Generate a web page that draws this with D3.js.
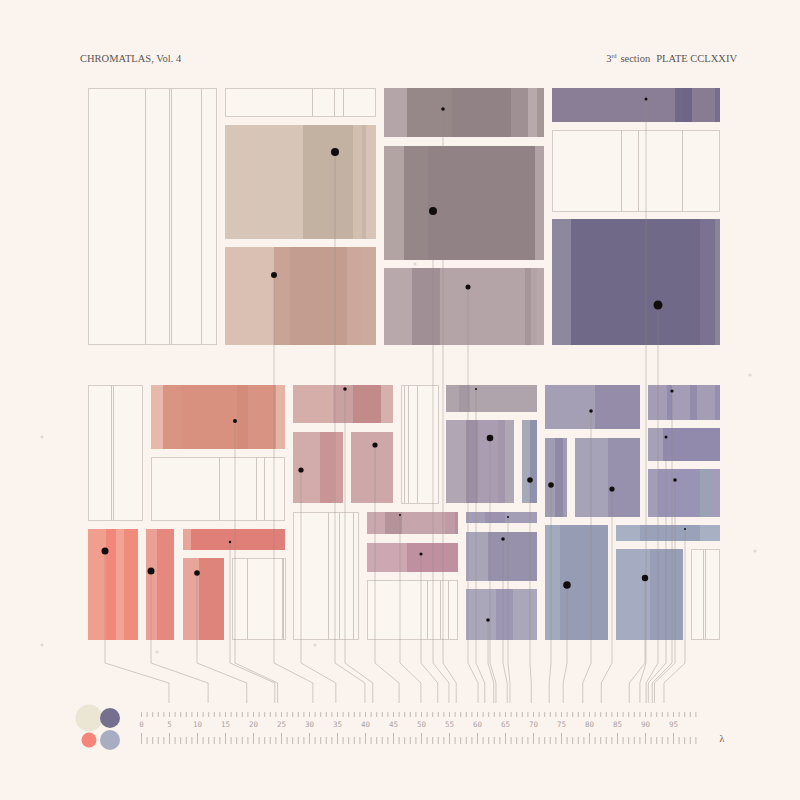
<!DOCTYPE html>
<html>
<head>
<meta charset="utf-8">
<script src="https://cdn.jsdelivr.net/npm/d3@7"></script>
<style>
  html, body { margin: 0; padding: 0; background: #fbf4ee; }
  svg { display: block; }
  .hdr { font-family: "Liberation Serif", "DejaVu Serif", serif; font-size: 10.5px; fill: #5c5552; }
  .rl { font-family: "DejaVu Sans Mono", monospace; font-size: 7.5px; fill: #aaa39f; text-anchor: middle; }
</style>
</head>
<body>
<div id="plate"></div>
<script>
// plate units: 0..632 across, 0..552 down
const filledBlocks = [
  [137, 37, 288, 151, '#d7c5b8'], [137, 159, 288, 257, '#d9c0b3'],
  [296, 0, 456, 49, '#b4a5a8'], [296, 58, 456, 172, '#b3a4a4'], [296, 180, 456, 257, '#b8a8ab'],
  [464, 0, 632, 34, '#8a7e97'], [464, 131, 632, 257, '#8e889f'],
  [63, 297, 197, 361, '#e6b9aa'], [0, 441, 50, 552, '#f09e8d'], [58, 441, 86, 552, '#eba095'],
  [95, 441, 197, 462, '#eaa59b'], [95, 470, 136, 552, '#e7a59c'],
  [205, 297, 305, 335, '#d5aeaa'], [205, 344, 255, 415, '#d2acaa'], [263, 344, 305, 415, '#cea8a8'],
  [279, 424, 370, 446, '#caa8ae'], [279, 455, 370, 484, '#cda8b2'],
  [358, 297, 449, 324, '#afa3ac'], [358, 332, 426, 415, '#b1a6b4'], [434, 332, 449, 415, '#a4aab9'],
  [378, 424, 449, 435, '#a49db6'], [378, 444, 449, 493, '#a9a5b9'], [378, 501, 449, 552, '#aba7bb'],
  [457, 297, 552, 341, '#a49fb4'], [560, 297, 632, 332, '#a49db5'],
  [457, 350, 479, 429, '#a09cb1'], [487, 350, 552, 429, '#a6a2b7'],
  [560, 340, 632, 373, '#a6a0b9'], [560, 381, 632, 429, '#a39dba'],
  [457, 437, 520, 552, '#a2aabe'], [528, 437, 632, 453, '#a8b0c4'], [528, 461, 595, 552, '#a5acc1']
];

// [block, x0, x1, colour]
const stripes = [
  [0, 215, 265, '#c3b1a2'], [0, 265, 274, '#d2bfb0'], [0, 274, 278, '#cab6a8'], [0, 278, 284, '#d8c4b6'],
  [1, 186, 202, '#c9a396'], [1, 202, 259, '#c29d90'], [1, 259, 274, '#cba89b'], [1, 274, 288, '#cdaa9e'],
  [2, 319, 364, '#968889'], [2, 364, 423, '#918385'], [2, 423, 440, '#9f9193'], [2, 440, 449, '#b8a9ac'], [2, 449, 456, '#a49597'],
  [3, 316, 340, '#958688'], [3, 340, 447, '#918385'], [3, 447, 456, '#b2a3a6'],
  [4, 324, 352, '#a08f95'], [4, 352, 437, '#b4a4a8'], [4, 437, 443, '#a69599'], [4, 443, 449, '#b3a3a7'],
  [5, 587, 595, '#716789'], [5, 595, 604, '#6f6586'], [5, 604, 627, '#887c95'], [5, 627, 632, '#786e8c'],
  [6, 483, 612, '#706988'], [6, 612, 627, '#7a7290'], [6, 627, 632, '#8a839c'],
  [7, 75, 93, '#d99482'], [7, 93, 149, '#d8917f'], [7, 149, 160, '#d48c7a'], [7, 160, 188, '#d99382'], [7, 188, 197, '#e4b4a6'],
  [8, 18, 28, '#f0877a'], [8, 28, 36, '#f2a394'], [8, 36, 50, '#ef8c7b'],
  [9, 69, 86, '#e5897f'],
  [10, 103, 197, '#e07f77'],
  [11, 111, 136, '#de847b'],
  [12, 245, 265, '#caa1a0'], [12, 265, 293, '#c28b89'], [12, 293, 305, '#d6b0ad'],
  [13, 232, 246, '#c89495'], [13, 246, 255, '#cd9c9d'],
  [15, 297, 314, '#b5939b'], [15, 314, 357, '#c7a5ac'], [15, 357, 367, '#bf9ca5'], [15, 367, 370, '#b88f9e'],
  [16, 319, 370, '#c090a1'],
  [17, 371, 382, '#a498a3'],
  [18, 378, 390, '#9d90a5'], [18, 390, 410, '#aa9db1'], [18, 410, 417, '#a497ac'],
  [19, 442, 449, '#8f92ab'],
  [20, 397, 417, '#9a92af'],
  [21, 400, 449, '#9791ac'],
  [22, 408, 425, '#9d97b4'],
  [23, 507, 552, '#948ca9'],
  [24, 579, 584, '#938bab'], [24, 602, 609, '#948cab'], [24, 627, 632, '#968fae'],
  [25, 467, 475, '#918aa7'],
  [26, 520, 552, '#9891ad'],
  [27, 575, 632, '#918aad'],
  [28, 570, 612, '#9994b5'], [28, 612, 624, '#9ba2b5'],
  [29, 472, 520, '#969cb3'],
  [30, 552, 612, '#9aa2ba'],
  [31, 562, 595, '#979eb6']
];

// empty blocks: [x0, y0, x1, y1], with their inner rules
const emptyBlocks = [
  [0, 0, 129, 257], [137, 0, 288, 29], [464, 42, 632, 124],
  [0, 297, 55, 433], [63, 369, 197, 433], [144, 470, 198, 552],
  [313, 297, 351, 416], [205, 424, 271, 552], [279, 492, 370, 552], [603, 461, 632, 552]
];
const emptyRules = [
  [57, 81, 83, 113], [224, 246, 255], [533, 550, 594],
  [23, 25], [131, 168, 176], [159, 194, 195],
  [316, 320, 329], [240, 251, 265], [339, 352, 360], [615, 617]
];

// samples: [x, y, weight, λ]
const samples = [
  [247, 64, 4, 39.9], [186, 187, 3, 30.6], [355, 21, 1.8, 56.2], [345, 123, 4, 54.9], [380, 199, 2.5, 60.1],
  [558, 11, 1.5, 89], [570, 217, 4.5, 90.1], [147, 333, 2, 24.3], [17, 463, 3.5, 4.9], [63, 483, 3.5, 11.9],
  [142, 454, 1.2, 23.8], [109, 485, 2.8, 18.8], [257, 301, 1.8, 41.3], [213, 382, 2.6, 34.7], [287, 357, 2.6, 46],
  [312, 427, 1, 49.9], [333, 466, 1.6, 52.9], [388, 301, 1, 61.3], [402, 350, 3.3, 63.3], [442, 392, 2.8, 69.6],
  [420, 429, 1, 65.8], [415, 451, 1.8, 65.3], [400, 532, 1.8, 62.9], [503, 323, 1.8, 78.8], [584, 303, 1.6, 91.2],
  [463, 397, 2.8, 72.8], [524, 401, 2.6, 82.1], [578, 349, 1.5, 90.5], [587, 392, 1.8, 91.6], [479, 497, 3.8, 75.3],
  [597, 441, 1, 93.3], [557, 490, 3.2, 87.1]
];

const rulerLabels = d3.range(0, 100, 5);
const swatchColours = ['#e8e2cf', '#6f6888', '#f47d72', '#a3a9bf'];
const swatchWeights = [13.5, 10, 7.5, 10];
const specks = [[-46, 349], [667, 463], [-46, 557], [69, 564], [227, 557], [327, 176], [662, 287]];

const W = 800, H = 800;
const x = d3.scaleLinear().domain([0, 632]).range([88, 720]);
const y = d3.scaleLinear().domain([0, 552]).range([88, 640]);
const lam = d3.scaleLinear().domain([0, 100]).range([141.5, 701.5]);

const svg = d3.select('#plate').append('svg')
  .attr('width', W).attr('height', H);

svg.append('rect').attr('width', W).attr('height', H).attr('fill', '#fbf4ee');

svg.append('g').selectAll('circle').data(specks).join('circle')
  .attr('cx', d => x(d[0])).attr('cy', d => y(d[1])).attr('r', 1.6)
  .attr('fill', '#cfc6c0').attr('opacity', 0.6);

// empty blocks
const gE = svg.append('g').attr('fill', 'none').attr('stroke', '#d6ccc7').attr('stroke-width', 1);
gE.selectAll('rect').data(emptyBlocks).join('rect')
  .attr('x', d => x(d[0]) + 0.5).attr('y', d => y(d[1]) + 0.5)
  .attr('width', d => x(d[2]) - x(d[0]) - 1).attr('height', d => y(d[3]) - y(d[1]) - 1)
  .attr('fill', '#fcf6f0');
emptyBlocks.forEach((b, i) => {
  emptyRules[i].forEach(r => {
    gE.append('line')
      .attr('x1', x(r) + 0.5).attr('x2', x(r) + 0.5)
      .attr('y1', y(b[1])).attr('y2', y(b[3]))
      .attr('stroke', '#d0c6c1');
  });
});

// filled blocks
const gF = svg.append('g');
gF.selectAll('rect.base').data(filledBlocks).join('rect')
  .attr('class', 'base')
  .attr('x', d => x(d[0])).attr('y', d => y(d[1]))
  .attr('width', d => x(d[2]) - x(d[0])).attr('height', d => y(d[3]) - y(d[1]))
  .attr('fill', d => d[4]);
gF.selectAll('rect.stripe').data(stripes).join('rect')
  .attr('class', 'stripe')
  .attr('x', d => x(d[1])).attr('width', d => x(d[2]) - x(d[1]))
  .attr('y', d => y(filledBlocks[d[0]][1]))
  .attr('height', d => y(filledBlocks[d[0]][3]) - y(filledBlocks[d[0]][1]))
  .attr('fill', d => d[3]);

// leaders
const bend1 = 663, bend2 = 683, foot = 703;
svg.append('g').selectAll('path').data(samples).join('path')
  .attr('d', d => `M${x(d[0])},${y(d[1])}V${bend1}L${lam(d[3])},${bend2}V${foot}`)
  .attr('fill', 'none')
  .attr('stroke', '#8f8683')
  .attr('stroke-opacity', 0.45)
  .attr('stroke-width', 0.9);

svg.append('g').selectAll('circle').data(samples).join('circle')
  .attr('cx', d => x(d[0])).attr('cy', d => y(d[1])).attr('r', d => d[2])
  .attr('fill', '#120d0d');

// ruler
const gR = svg.append('g').attr('stroke', '#b2aaa6').attr('stroke-width', 0.8);
const ticks = d3.range(0, 100);
gR.selectAll('line.top').data(ticks).join('line')
  .attr('class', 'top')
  .attr('x1', d => lam(d)).attr('x2', d => lam(d))
  .attr('y1', 712).attr('y2', 717);
gR.selectAll('line.bot').data(ticks).join('line')
  .attr('class', 'bot')
  .attr('x1', d => lam(d)).attr('x2', d => lam(d))
  .attr('y1', d => d % 5 === 0 ? 733 : 737).attr('y2', 744);
svg.append('g').selectAll('text').data(rulerLabels).join('text')
  .attr('class', 'rl')
  .attr('x', d => lam(d)).attr('y', 726.5)
  .text(d => d);
svg.append('text').attr('class', 'hdr')
  .attr('x', 722).attr('y', 742).attr('text-anchor', 'middle')
  .attr('fill', '#8d8582').style('font-size', '10px')
  .text('λ');

// swatches
svg.append('g').selectAll('circle').data(swatchColours).join('circle')
  .attr('cx', (d, i) => 89 + (i % 2) * 21)
  .attr('cy', (d, i) => 718 + Math.floor(i / 2) * 22)
  .attr('r', (d, i) => swatchWeights[i])
  .attr('fill', d => d)
  .attr('opacity', (d, i) => i === 0 ? 0.85 : 0.95);

// header
svg.append('text').attr('class', 'hdr').attr('x', 80).attr('y', 62)
  .text('CHROMATLAS, Vol. 4');
const right = svg.append('text').attr('class', 'hdr').attr('x', 737).attr('y', 62)
  .attr('text-anchor', 'end');
right.append('tspan').text('3');
right.append('tspan').attr('dy', -4).style('font-size', '6px').text('rd');
right.append('tspan').attr('dy', 4).attr('dx', 4).text('section');
right.append('tspan').attr('dx', 6).text('PLATE CCLXXIV');
</script>
</body>
</html>
